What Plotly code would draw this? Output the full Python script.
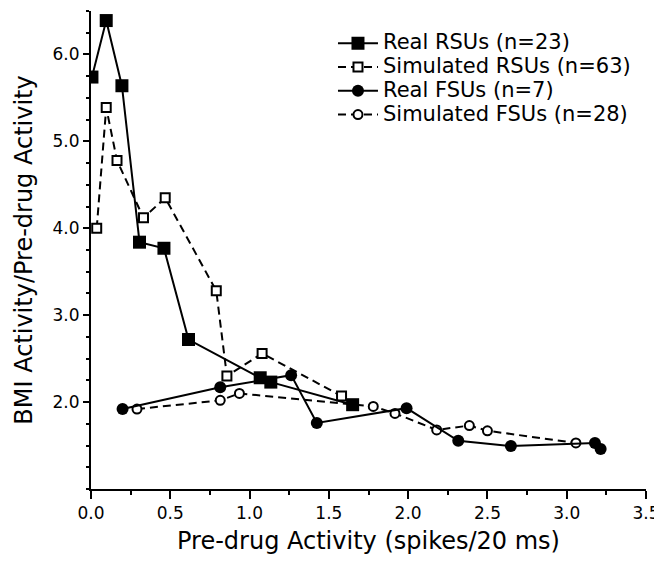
import plotly.graph_objects as go

# Real RSUs (n=23)
real_rsu_x = [0.006, 0.096, 0.195, 0.306, 0.46, 0.615, 1.067, 1.134, 1.65]
real_rsu_y = [5.74, 6.39, 5.64, 3.84, 3.77, 2.72, 2.28, 2.23, 1.97]

# Simulated RSUs (n=63)
sim_rsu_x = [0.036, 0.096, 0.164, 0.331, 0.468, 0.79, 0.857, 1.079, 1.58]
sim_rsu_y = [4.00, 5.39, 4.78, 4.12, 4.35, 3.28, 2.30, 2.56, 2.07]

# Real FSUs (n=7)
real_fsu_x = [0.199, 0.815, 1.262, 1.424, 1.99, 2.316, 2.648, 3.178, 3.214]
real_fsu_y = [1.92, 2.17, 2.31, 1.76, 1.93, 1.555, 1.494, 1.53, 1.46]

# Simulated FSUs (n=28)
sim_fsu_x = [0.29, 0.815, 0.936, 1.78, 1.917, 2.18, 2.386, 2.5, 3.058]
sim_fsu_y = [1.92, 2.02, 2.10, 1.95, 1.87, 1.68, 1.73, 1.67, 1.53]

x_ticks = [0.0, 0.5, 1.0, 1.5, 2.0, 2.5, 3.0, 3.5]
y_ticks = [2.0, 3.0, 4.0, 5.0, 6.0]

FONT = "DejaVu Sans, sans-serif"


def lg(name):
    return f'<span style="font-size:21px">{name}</span>'


fig = go.Figure()

fig.add_trace(go.Scatter(
    x=sim_fsu_x, y=sim_fsu_y, mode="lines+markers", name=lg("Simulated FSUs (n=28)"),
    line=dict(color="black", width=2, dash="8px,5px"),
    marker=dict(symbol="circle", size=9, color="white", line=dict(color="black", width=2)),
))
fig.add_trace(go.Scatter(
    x=real_fsu_x, y=real_fsu_y, mode="lines+markers", name=lg("Real FSUs (n=7)"),
    line=dict(color="black", width=2),
    marker=dict(symbol="circle", size=12, color="black"),
))
fig.add_trace(go.Scatter(
    x=sim_rsu_x, y=sim_rsu_y, mode="lines+markers", name=lg("Simulated RSUs (n=63)"),
    line=dict(color="black", width=2, dash="8px,5px"),
    marker=dict(symbol="square", size=9, color="white", line=dict(color="black", width=2)),
))
fig.add_trace(go.Scatter(
    x=real_rsu_x, y=real_rsu_y, mode="lines+markers", name=lg("Real RSUs (n=23)"),
    line=dict(color="black", width=2),
    marker=dict(symbol="square", size=13, color="black"),
))

fig.update_layout(
    width=654, height=554,
    margin=dict(l=83, r=16, t=3, b=73),
    paper_bgcolor="white", plot_bgcolor="white",
    font=dict(family=FONT, color="black", size=17),
    showlegend=True,
    legend=dict(
        x=0.436, y=0.968, xanchor="left", yanchor="top",
        traceorder="reversed",
        font=dict(size=16, family=FONT, color="black"),
        bgcolor="rgba(0,0,0,0)", itemwidth=40,
    ),
    xaxis=dict(
        range=[0, 3.5], tickvals=x_ticks, ticktext=[f"{v:.1f}" for v in x_ticks],
        showgrid=False, zeroline=False, showline=True, linecolor="black", linewidth=2,
        ticks="outside", ticklen=8, tickwidth=2, tickcolor="black",
        minor=dict(dtick=0.25, tick0=0, ticks="outside", ticklen=4, tickwidth=2, tickcolor="black"),
        tickfont=dict(size=17), automargin=False,
        title=dict(text="Pre-drug Activity (spikes/20 ms)", font=dict(size=24), standoff=10),
    ),
    yaxis=dict(
        range=[1.0, 6.5], tickvals=y_ticks, ticktext=[f"{v:.1f}" for v in y_ticks],
        showgrid=False, zeroline=False, showline=True, linecolor="black", linewidth=2,
        ticks="outside", ticklen=6, tickwidth=2, tickcolor="black",
        minor=dict(dtick=0.25, tick0=1.0, ticks="outside", ticklen=3, tickwidth=2, tickcolor="black"),
        tickfont=dict(size=17), automargin=False,
        title=dict(text="BMI Activity/Pre-drug Activity", font=dict(size=24), standoff=13),
    ),
)

fig.write_html("out.html")
